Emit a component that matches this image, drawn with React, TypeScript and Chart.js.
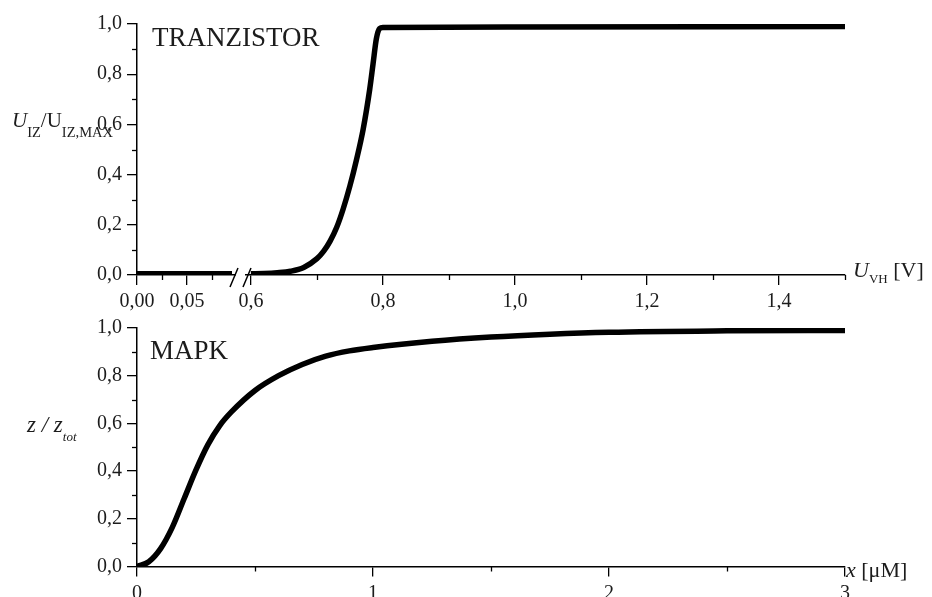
import React, { useEffect, useRef } from 'react';
import { Chart, registerables } from 'chart.js';

Chart.register(...registerables);

// ---------- Top panel: TRANZISTOR ----------
const transLowU = [0, 0.095];
const transLowY = [0.005, 0.005];
const transU = [0.6, 0.62, 0.64, 0.66, 0.68, 0.7, 0.71, 0.72, 0.73, 0.74, 0.75, 0.76, 0.77, 0.78, 0.785, 0.79, 0.795, 0.8, 1.0, 1.5];
const transY = [0.005, 0.006, 0.009, 0.015, 0.03, 0.065, 0.094, 0.135, 0.19, 0.265, 0.355, 0.46, 0.58, 0.74, 0.84, 0.94, 0.982, 0.986, 0.988, 0.99];
const transTicksLow = [0, 0.05];
const transMinorLow = [0.025, 0.075];
const transTicksHigh = [0.6, 0.8, 1.0, 1.2, 1.4];
const transMinorHigh = [0.7, 0.9, 1.1, 1.3, 1.5];

// ---------- Bottom panel: MAPK ----------
const mapkX = [0, 0.05, 0.1, 0.15, 0.2, 0.25, 0.3, 0.35, 0.4, 0.5, 0.6, 0.7, 0.8, 0.9, 1.0, 1.25, 1.5, 1.75, 2.0, 2.5, 3.0];
const mapkY = [0, 0.02, 0.075, 0.165, 0.285, 0.405, 0.51, 0.59, 0.648, 0.738, 0.8, 0.847, 0.882, 0.904, 0.918, 0.944, 0.962, 0.974, 0.982, 0.988, 0.99];
const mapkTicks = [0, 1, 2, 3];
const mapkMinor = [0.5, 1.5, 2.5];

// ---------- shared y ticks ----------
const yTicks = [0, 0.2, 0.4, 0.6, 0.8, 1.0];
const yMinor = [0.1, 0.3, 0.5, 0.7, 0.9];

const SERIF = "'Liberation Serif', 'Times New Roman', serif";
const tickFont = { family: SERIF, size: 20 };
const TEXT = '#1c1c1c';
const fmt = (d: number) => (v: any) => Number(v).toFixed(d).replace('.', ',');

const grid = { display: true, drawOnChartArea: false, drawTicks: true, tickLength: 10, color: '#000', lineWidth: 1.3 };
const border = { display: true, color: '#000', width: 1.5 };

function makeMinorPlugin(map: Record<string, number[]>) {
  return {
    id: 'minorTicks',
    afterDraw(chart: any) {
      const ctx = chart.ctx;
      ctx.save();
      ctx.strokeStyle = '#000';
      ctx.lineWidth = 1.3;
      Object.keys(map).forEach((id) => {
        const s = chart.scales[id];
        if (!s) return;
        map[id].forEach((v) => {
          const p = Math.round(s.getPixelForValue(v)) + 0.5;
          ctx.beginPath();
          if (s.isHorizontal()) {
            ctx.moveTo(p, s.top);
            ctx.lineTo(p, s.top + 5);
          } else {
            ctx.moveTo(s.right, p);
            ctx.lineTo(s.right - 5, p);
          }
          ctx.stroke();
        });
      });
      ctx.restore();
    },
  };
}

const breakPlugin = {
  id: 'axisBreak',
  afterDraw(chart: any) {
    const s = chart.scales.x1;
    if (!s) return;
    const ctx = chart.ctx;
    const cx = s.right;
    const ay = s.top;
    ctx.save();
    ctx.fillStyle = '#fff';
    ctx.fillRect(cx - 5, ay - 3, 9, 6);
    ctx.strokeStyle = '#000';
    ctx.lineWidth = 1.5;
    ctx.beginPath();
    ctx.moveTo(cx - 11, ay + 12);
    ctx.lineTo(cx - 3, ay - 7);
    ctx.moveTo(cx + 2, ay + 12);
    ctx.lineTo(cx + 10, ay - 7);
    ctx.stroke();
    ctx.restore();
  },
};

const lineStyle = {
  borderColor: '#000',
  borderWidth: 5.5,
  pointRadius: 0,
  borderCapStyle: 'butt',
  borderJoinStyle: 'round',
  fill: false,
};

function yScale() {
  return {
    type: 'linear',
    position: 'left',
    min: 0,
    max: 1,
    afterBuildTicks: (s: any) => { s.ticks = yTicks.map((v) => ({ value: v })); },
    afterFit: (s: any) => { s.width = 137; },
    ticks: { callback: fmt(1), font: tickFont, color: TEXT, padding: 5 },
    grid,
    border,
  };
}

function TopChart() {
  const ref = useRef<HTMLCanvasElement>(null);
  useEffect(() => {
    const chart = new Chart(ref.current as HTMLCanvasElement, {
      type: 'line',
      data: {
        datasets: [
          { ...lineStyle, data: transLowU.map((x, i) => ({ x, y: transLowY[i] })), xAxisID: 'x1', yAxisID: 'y' },
          { ...lineStyle, cubicInterpolationMode: 'monotone', data: transU.map((x, i) => ({ x, y: transY[i] })), xAxisID: 'x2', yAxisID: 'y' },
        ] as any,
      },
      options: {
        animation: false,
        responsive: false,
        maintainAspectRatio: false,
        devicePixelRatio: 1,
        events: [],
        layout: { padding: { left: 0, right: 87, top: 24, bottom: 0 } },
        plugins: { legend: { display: false }, tooltip: { enabled: false } },
        scales: {
          x1: {
            type: 'linear', position: 'bottom', stack: 'tx', stackWeight: 104,
            min: 0, max: 0.104,
            afterBuildTicks: (s: any) => { s.ticks = transTicksLow.map((v) => ({ value: v })); },
            afterFit: (s: any) => { s.height = 55; },
            ticks: { callback: fmt(2), font: tickFont, color: TEXT, padding: 5, maxRotation: 0, autoSkip: false },
            grid, border,
          },
          x2: {
            type: 'linear', position: 'bottom', stack: 'tx', stackWeight: 604,
            min: 0.585, max: 1.5,
            afterBuildTicks: (s: any) => { s.ticks = transTicksHigh.map((v) => ({ value: v })); },
            afterFit: (s: any) => { s.height = 55; },
            ticks: { callback: fmt(1), font: tickFont, color: TEXT, padding: 5, maxRotation: 0, autoSkip: false },
            grid, border,
          },
          y: yScale(),
        } as any,
      },
      plugins: [makeMinorPlugin({ x1: transMinorLow, x2: transMinorHigh, y: yMinor }), breakPlugin] as any,
    });
    return () => chart.destroy();
  }, []);
  return <canvas ref={ref} width={932} height={330} style={{ position: 'absolute', left: 0, top: 0 }} />;
}

function BottomChart() {
  const ref = useRef<HTMLCanvasElement>(null);
  useEffect(() => {
    const chart = new Chart(ref.current as HTMLCanvasElement, {
      type: 'line',
      data: {
        datasets: [
          { ...lineStyle, cubicInterpolationMode: 'monotone', data: mapkX.map((x, i) => ({ x, y: mapkY[i] })), xAxisID: 'x', yAxisID: 'y' },
        ] as any,
      },
      options: {
        animation: false,
        responsive: false,
        maintainAspectRatio: false,
        devicePixelRatio: 1,
        events: [],
        layout: { padding: { left: 0, right: 87, top: 28, bottom: 0 } },
        plugins: { legend: { display: false }, tooltip: { enabled: false } },
        scales: {
          x: {
            type: 'linear', position: 'bottom',
            min: 0, max: 3,
            afterBuildTicks: (s: any) => { s.ticks = mapkTicks.map((v) => ({ value: v })); },
            afterFit: (s: any) => { s.height = 30.5; },
            ticks: { callback: (v: any) => String(v), font: tickFont, color: TEXT, padding: 5, maxRotation: 0, autoSkip: false },
            grid, border,
          },
          y: yScale(),
        } as any,
      },
      plugins: [makeMinorPlugin({ x: mapkMinor, y: yMinor })] as any,
    });
    return () => chart.destroy();
  }, []);
  return <canvas ref={ref} width={932} height={297} style={{ position: 'absolute', left: 0, top: 300 }} />;
}

function Label({ left, baseline, size, children, italic }: any) {
  return (
    <div
      style={{
        position: 'absolute',
        left,
        top: baseline - 0.8375 * size,
        fontSize: size,
        lineHeight: `${size}px`,
        fontFamily: SERIF,
        fontStyle: italic ? 'italic' : 'normal',
        color: TEXT,
        whiteSpace: 'nowrap',
      }}
    >
      {children}
    </div>
  );
}

const sub = (size: number, dy: number, italic = false) => ({
  fontSize: size,
  position: 'relative' as const,
  top: dy,
  fontStyle: italic ? 'italic' : 'normal',
});

export default function App() {
  return (
    <div style={{ position: 'absolute', left: 0, top: 0, width: 932, height: 597, background: '#fff', overflow: 'hidden' }}>
      <TopChart />
      <BottomChart />
      <Label left={152} baseline={47} size={27}>TRANZISTOR</Label>
      <Label left={150} baseline={360} size={27}>MAPK</Label>
      <Label left={12} baseline={128} size={21}>
        <i>U</i><span style={sub(14.5, 10)}>IZ</span>/U<span style={sub(14.5, 10)}>IZ,MAX</span>
      </Label>
      <Label left={27} baseline={432} size={23} italic>
        z / z<span style={sub(13, 9, true)}>tot</span>
      </Label>
      <Label left={853} baseline={277} size={22}>
        <i>U</i><span style={sub(13, 6)}>VH</span> [V]
      </Label>
      <Label left={846} baseline={577} size={22}>
        <i>x</i> [μM]
      </Label>
    </div>
  );
}
